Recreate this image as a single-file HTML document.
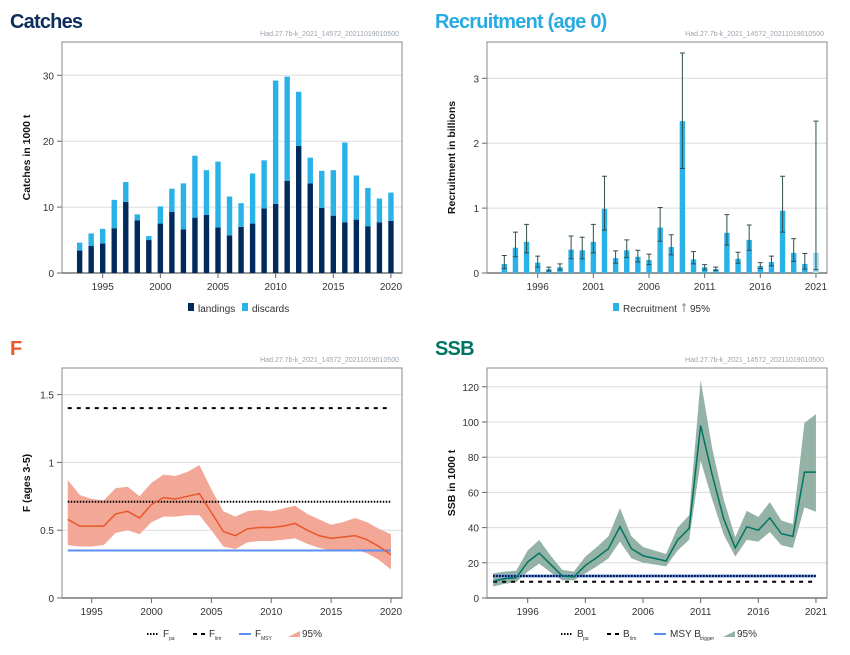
<!DOCTYPE html>
<html><head><meta charset="utf-8">
<style>
body{margin:0;background:#fff;width:850px;height:650px;overflow:hidden;font-family:"Liberation Sans",sans-serif;}
svg text{font-family:"Liberation Sans",sans-serif;}
</style></head>
<body>
<svg id="c" width="850" height="650" xmlns="http://www.w3.org/2000/svg"></svg>
<script>
// ---- Catches data
const catchYears = [1993,1994,1995,1996,1997,1998,1999,2000,2001,2002,2003,2004,2005,2006,2007,2008,2009,2010,2011,2012,2013,2014,2015,2016,2017,2018,2019,2020];
const landings = [3.4,4.1,4.5,6.8,10.8,8.0,5.0,7.5,9.3,6.6,8.4,8.8,6.9,5.7,7.0,7.5,9.8,10.5,14.0,19.3,13.6,9.9,8.7,7.7,8.1,7.1,7.7,7.9];
const discards = [1.2,1.9,2.2,4.3,3.0,0.9,0.6,2.6,3.5,7.0,9.4,6.8,10.0,5.9,3.6,7.6,7.3,18.7,15.8,8.2,3.9,5.6,6.9,12.1,6.7,5.8,3.6,4.3];
const catchTicks = [0,10,20,30];
const catchXTicks = [1995,2000,2005,2010,2015,2020];
// ---- Recruitment data
const recYears = [1993,1994,1995,1996,1997,1998,1999,2000,2001,2002,2003,2004,2005,2006,2007,2008,2009,2010,2011,2012,2013,2014,2015,2016,2017,2018,2019,2020,2021];
const recruitment = [0.14,0.39,0.48,0.16,0.06,0.09,0.36,0.35,0.48,0.99,0.23,0.35,0.25,0.20,0.70,0.40,2.34,0.21,0.09,0.06,0.62,0.22,0.51,0.11,0.17,0.96,0.31,0.14,0.31];
const recLow = [0.07,0.25,0.31,0.09,0.03,0.05,0.22,0.22,0.31,0.66,0.15,0.24,0.17,0.13,0.49,0.28,1.61,0.14,0.05,0.04,0.43,0.15,0.35,0.07,0.11,0.63,0.18,0.06,0.05];
const recHigh = [0.27,0.63,0.75,0.26,0.09,0.14,0.57,0.55,0.75,1.49,0.34,0.51,0.35,0.29,1.01,0.59,3.39,0.33,0.13,0.09,0.90,0.32,0.74,0.16,0.26,1.49,0.53,0.30,2.34];
const recTicks = [0,1,2,3];
const recXTicks = [1996,2001,2006,2011,2016,2021];
// ---- F data
const fYears = [1993,1994,1995,1996,1997,1998,1999,2000,2001,2002,2003,2004,2005,2006,2007,2008,2009,2010,2011,2012,2013,2014,2015,2016,2017,2018,2019,2020];
const fMean = [0.58,0.53,0.53,0.53,0.62,0.64,0.59,0.69,0.74,0.73,0.75,0.77,0.63,0.49,0.46,0.51,0.52,0.52,0.53,0.55,0.50,0.46,0.44,0.45,0.46,0.43,0.38,0.32];
const fLow = [0.39,0.38,0.38,0.39,0.48,0.50,0.47,0.56,0.60,0.60,0.61,0.61,0.50,0.38,0.36,0.41,0.42,0.42,0.43,0.44,0.40,0.37,0.35,0.35,0.36,0.33,0.28,0.21];
const fHigh = [0.87,0.76,0.73,0.72,0.81,0.82,0.75,0.85,0.91,0.90,0.93,0.98,0.80,0.64,0.60,0.64,0.65,0.64,0.66,0.68,0.62,0.58,0.54,0.56,0.59,0.56,0.51,0.47];
const fRefs = [0.71,1.40,0.35];
const fTicks = [0,0.5,1,1.5];
const fXTicks = [1995,2000,2005,2010,2015,2020];
// ---- SSB data
const ssbYears = [1993,1994,1995,1996,1997,1998,1999,2000,2001,2002,2003,2004,2005,2006,2007,2008,2009,2010,2011,2012,2013,2014,2015,2016,2017,2018,2019,2020,2021];
const ssbMean = [9.5,11,11.5,20.5,25.5,19,12.5,12,18.5,23,28,40.5,28,24,22.5,21,33,39.5,98,70,45,28.5,40.5,38.5,45.5,36.5,35,71.5,71.5];
const ssbLow = [6.5,8,9,15,19.5,14.5,10,10,14,18,22.5,32,22.5,20,19,18,27,33,78,56,36,23.5,33,32,37.5,30,28.5,51.5,49];
const ssbHigh = [14,15,15.5,27,33,24,16,15,23.5,29,35,51,35,29,27,25,40,47,124,85,56,34.5,49.5,46,54.5,44,42,99.5,104.5];
const ssbRefs = [12.5,9.2,12.5];
const ssbTicks = [0,20,40,60,80,100,120];
const ssbXTicks = [1996,2001,2006,2011,2016,2021];

const svg = document.getElementById('c');
const NS = 'http://www.w3.org/2000/svg';
function mk(tag, attrs, parent, txt){
  const e = document.createElementNS(NS, tag);
  for (const k in attrs) e.setAttribute(k, attrs[k]);
  if (txt !== undefined) e.textContent = txt;
  (parent||svg).appendChild(e);
  return e;
}
function axes(g, L, R, T, B, xs, ys, xTicks, yTicks, yTitle, stamp){
  for (const t of yTicks){
    const y = ys(t);
    if (t !== 0) { const gl = mk('line',{x1:L,x2:R,y1:y,y2:y,stroke:'#dcdcdc','stroke-width':1},g);
        }
    mk('line',{x1:L-5,x2:L,y1:y,y2:y,stroke:'#666'},g);
    const tl = mk('text',{x:L-8,y:y+4,'text-anchor':'end','font-size':10,fill:'#333'},g,String(t));
     
  }
  for (const t of xTicks){
    const x = xs(t);
    mk('line',{x1:x,x2:x,y1:B,y2:B+5,stroke:'#666'},g);
    const tl = mk('text',{x:x,y:B+17,'text-anchor':'middle','font-size':10,fill:'#333'},g,String(t));
     
  }
  const fr = mk('rect',{x:L,y:T,width:R-L,height:B-T,fill:'none',stroke:'#888','stroke-width':1},g);
   
  mk('line',{x1:L,x2:R,y1:B,y2:B,stroke:'#777','stroke-width':1.5},g);
  const cy=(T+B)/2;
  const yt = mk('text',{x:0,y:0,transform:`translate(${L-32},${cy}) rotate(-90)`,'text-anchor':'middle','font-size':10.5,'font-weight':'bold',fill:'#111'},g,yTitle);
   
  const st = mk('text',{x:R-3,y:T-6,'text-anchor':'end','font-size':7,fill:'#9aa3ad'},g,stamp);
   
}
function title(txt,x,y,color){
  const t = mk('text',{x:x,y:y,'font-size':20,'font-weight':'bold',fill:color,'letter-spacing':'-0.8'},svg,txt);
   
}
const stamp='Had.27.7b-k_2021_14572_20211019010500';

// ---------- Catches
{
  const g = mk('g',{});
   
  const L=62,R=402,T=42,B=273;
  const xs = y => 102.7 + (y-1995)*11.53;
  const ys = v => B - v*6.59;
  title('Catches',10,28,'#0d2d5c');
  axes(g,L,R,T,B,xs,ys,catchXTicks,catchTicks,'Catches in 1000 t',stamp);
  catchYears.forEach((yr,i)=>{
    const x = xs(yr)-2.7;
    const b1 = mk('rect',{x:x,y:ys(landings[i]),width:5.4,height:B-ys(landings[i]),fill:'#002a5c'},g);
     
    const b2 = mk('rect',{x:x,y:ys(landings[i]+discards[i]),width:5.4,height:ys(landings[i])-ys(landings[i]+discards[i]),fill:'#29b2e8'},g);
     
  });
  const lg = mk('g',{},g);  
  mk('rect',{x:188,y:303,width:6,height:8,fill:'#002a5c'},lg);
  const a=mk('text',{x:198,y:312,'font-size':10,fill:'#333'},lg,'landings');  
  mk('rect',{x:242,y:303,width:6,height:8,fill:'#29b2e8'},lg);
  const b=mk('text',{x:252,y:312,'font-size':10,fill:'#333'},lg,'discards');  
}
// ---------- Recruitment
{
  const g = mk('g',{});
   
  const L=487,R=827,T=42,B=273;
  const xs = y => 537.7 + (y-1996)*11.13;
  const ys = v => B - v*64.9;
  title('Recruitment (age 0)',435,28,'#29abe2');
  axes(g,L,R,T,B,xs,ys,recXTicks,recTicks,'Recruitment in billions',stamp);
  recYears.forEach((yr,i)=>{
    const x = xs(yr);
    const last = i===recYears.length-1;
    const bar = mk('rect',{x:x-2.7,y:ys(recruitment[i]),width:5.4,height:B-ys(recruitment[i]),fill:last?'#9fd9f2':'#29b2e8'},g);
     
    const eb = mk('path',{d:`M${x},${ys(recLow[i])}V${ys(recHigh[i])}M${x-2.5},${ys(recHigh[i])}H${x+2.5}M${x-2.5},${ys(recLow[i])}H${x+2.5}`,stroke:'#2f4f4f','stroke-width':1,fill:'none'},g);
     
  });
  const lg = mk('g',{},g);  
  mk('rect',{x:613,y:303,width:6,height:8,fill:'#29b2e8'},lg);
  const a=mk('text',{x:623,y:312,'font-size':10,fill:'#333'},lg,'Recruitment');  
  mk('path',{d:'M684,303V312M682,305H686',stroke:'#888'},lg);
  const b=mk('text',{x:690,y:312,'font-size':10,fill:'#333'},lg,'95%');  
}
function band(g,xs,ys,years,lo,hi,fill,name){
  let d='M'+years.map((y,i)=>xs(y)+','+ys(hi[i])).join('L');
  d+='L'+years.slice().reverse().map((y,j)=>{const i=years.length-1-j;return xs(y)+','+ys(lo[i]);}).join('L')+'Z';
  const p=mk('path',{d:d,fill:fill,stroke:'none'},g);
   
}
function line(g,xs,ys,years,vals,color,w,name){
  const p=mk('path',{d:'M'+years.map((y,i)=>xs(y)+','+ys(vals[i])).join('L'),fill:'none',stroke:color,'stroke-width':w},g);
   
}
function hline(g,x1,x2,y,color,w,dash,name){
  const a={x1:x1,x2:x2,y1:y,y2:y,stroke:color,'stroke-width':w};
  if(dash) a['stroke-dasharray']=dash;
  const l=mk('line',a,g);  
}
// ---------- F
{
  const g = mk('g',{});
   
  const L=62,R=402,T=368,B=598;
  const xs = y => 91.7 + (y-1995)*11.97;
  const ys = v => B - v*135.6;
  title('F',10,355,'#e8582a');
  axes(g,L,R,T,B,xs,ys,fXTicks,fTicks,'F (ages 3-5)',stamp);
  band(g,xs,ys,fYears,fLow,fHigh,'#f2a797','f-confidence-band');
  const x1=xs(fYears[0]), x2=xs(fYears[fYears.length-1]);
  hline(g,x1,x2,ys(fRefs[2]),'#5b8ff0',2,null,'fmsy-line');
  hline(g,x1,x2,ys(fRefs[0]),'#000',2,'1.5,1.5','fpa-line');
  hline(g,x1,x2,ys(fRefs[1]),'#000',2,'4,5','flim-line');
  line(g,xs,ys,fYears,fMean,'#e8582a',1.5,'f-line');
  const lg = mk('g',{},g);  
  mk('line',{x1:147,x2:158,y1:634,y2:634,stroke:'#000','stroke-width':2,'stroke-dasharray':'1.5,1.5'},lg);
  const a=mk('text',{x:163,y:637,'font-size':10,fill:'#333'},lg,'F');  
  mk('text',{x:169,y:640,'font-size':5,fill:'#333'},lg,'pa');
  mk('line',{x1:193,x2:205,y1:634,y2:634,stroke:'#000','stroke-width':2,'stroke-dasharray':'4,4'},lg);
  const b=mk('text',{x:209,y:637,'font-size':10,fill:'#333'},lg,'F');  
  mk('text',{x:215,y:640,'font-size':5,fill:'#333'},lg,'lim');
  mk('line',{x1:239,x2:251,y1:634,y2:634,stroke:'#5b8ff0','stroke-width':2},lg);
  const c=mk('text',{x:255,y:637,'font-size':10,fill:'#333'},lg,'F');  
  mk('text',{x:261,y:640,'font-size':5,fill:'#333'},lg,'MSY');
  mk('path',{d:'M288,637L300,631V637Z',fill:'#f2a797'},lg);
  const d=mk('text',{x:302,y:637,'font-size':10,fill:'#333'},lg,'95%');  
}
// ---------- SSB
{
  const g = mk('g',{});
   
  const L=487,R=827,T=368,B=598;
  const xs = y => 527.7 + (y-1996)*11.53;
  const ys = v => B - v*1.76;
  title('SSB',435,355,'#007564');
  axes(g,L,R,T,B,xs,ys,ssbXTicks,ssbTicks,'SSB in 1000 t',stamp);
  band(g,xs,ys,ssbYears,ssbLow,ssbHigh,'#94b2a5','ssb-confidence-band');
  const x1=xs(ssbYears[0]), x2=xs(ssbYears[ssbYears.length-1]);
  hline(g,x1,x2,ys(ssbRefs[2]),'#5b8ff0',3,null,'msy-btrigger-line');
  hline(g,x1,x2,ys(ssbRefs[0]),'#000',2,'1.5,1.5','bpa-line');
  hline(g,x1,x2,ys(ssbRefs[1]),'#000',2,'4,5','blim-line');
  line(g,xs,ys,ssbYears,ssbMean,'#007564',1.5,'ssb-line');
  const lg = mk('g',{},g);  
  mk('line',{x1:561,x2:572,y1:634,y2:634,stroke:'#000','stroke-width':2,'stroke-dasharray':'1.5,1.5'},lg);
  const a=mk('text',{x:577,y:637,'font-size':10,fill:'#333'},lg,'B');  
  mk('text',{x:583,y:640,'font-size':5,fill:'#333'},lg,'pa');
  mk('line',{x1:607,x2:619,y1:634,y2:634,stroke:'#000','stroke-width':2,'stroke-dasharray':'4,4'},lg);
  const b=mk('text',{x:623,y:637,'font-size':10,fill:'#333'},lg,'B');  
  mk('text',{x:630,y:640,'font-size':5,fill:'#333'},lg,'lim');
  mk('line',{x1:654,x2:666,y1:634,y2:634,stroke:'#5b8ff0','stroke-width':2},lg);
  const c=mk('text',{x:670,y:637,'font-size':10,fill:'#333'},lg,'MSY B');  
  mk('text',{x:700,y:640,'font-size':5,fill:'#333'},lg,'trigger');
  mk('path',{d:'M723,637L735,631V637Z',fill:'#94b2a5'},lg);
  const d=mk('text',{x:737,y:637,'font-size':10,fill:'#333'},lg,'95%');  
}
</script>
</body></html>
